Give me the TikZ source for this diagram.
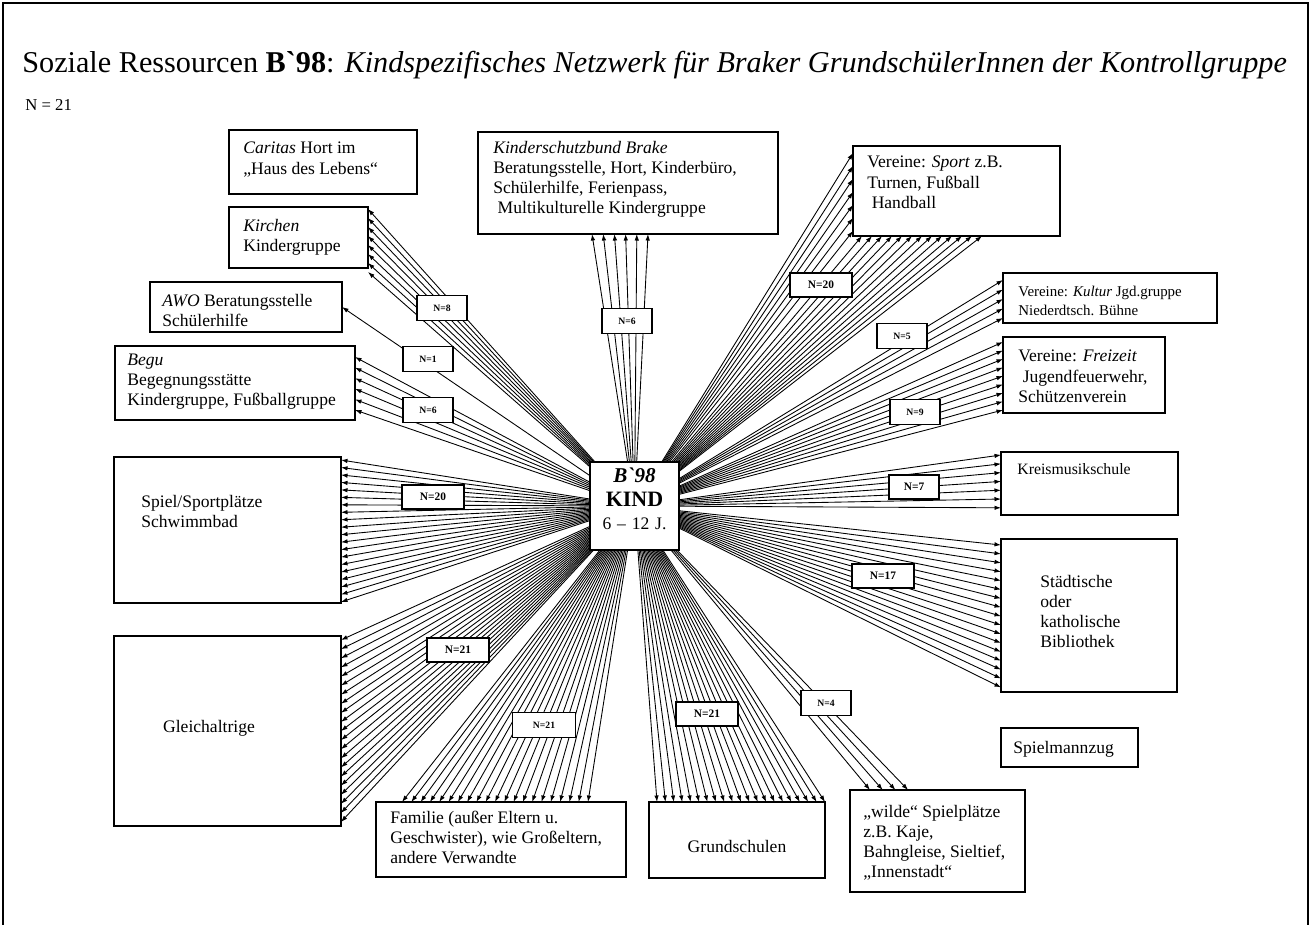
\documentclass[tikz,border=0pt]{standalone}
\usepackage{fontspec}
\setmainfont{Liberation Serif}[Ligatures=TeXOff]
\usetikzlibrary{arrows.meta, calc, positioning, fit, backgrounds}

\begin{document}
\begin{tikzpicture}[x=0.02cm, y=-0.02cm,
        box/.style={draw, line width=0.8pt, inner sep=0pt, outer sep=0pt},
        txt/.style={align=left, inner sep=0pt, font=\fontsize{10}{11.4}\selectfont},
        nlab/.style={draw, fill=white, line width=0.7pt, inner sep=0pt,
            font=\fontsize{5.5}{6}\selectfont\bfseries, minimum width=1cm, minimum height=0.49cm},
        nbig/.style={nlab, font=\fontsize{6.5}{7}\selectfont\bfseries, minimum width=1.24cm, minimum height=0.48cm},
        fan/.style={line width=0.5pt, -{Latex[length=0.13cm, width=0.09cm]}}]
    \useasboundingbox (0,0) rectangle (1311,924);
    \draw[line width=1.2pt] (3,930) -- (3,3) -- (1308,3) -- (1308,930);

    \node[anchor=base west, inner sep=0pt] (title) at (22,72)
        {\fontsize{17.2}{20}\selectfont Soziale Ressourcen \textbf{B`98}: \textit{Kindspezifisches Netzwerk für Braker GrundschülerInnen der Kontrollgruppe}};
    \node[anchor=base west, inner sep=0pt, font=\fontsize{9.5}{12}\selectfont] (ntotal) at (25,110) {N = 21};

    \node[box, fit={(229,130) (417,194)}] (caritas) {};
    \node[box, fit={(229,207) (368,268)}] (kirchen) {};
    \node[box, fit={(150,282) (342,332)}] (awo) {};
    \node[box, fit={(115,346) (355,420)}] (begu) {};
    \node[box, fit={(478,132) (778,234)}] (ksb) {};
    \node[box, fit={(853,146) (1060,236)}] (sport) {};
    \node[box, fit={(1003,273) (1217,323)}] (kultur) {};
    \node[box, fit={(1003,337) (1165,413)}] (freizeit) {};
    \node[box, fit={(1001,452) (1178,515)}] (kreis) {};
    \node[box, fit={(1001,539) (1177,692)}] (biblio) {};
    \node[box, fit={(1001,728) (1138,767)}] (spielmann) {};
    \node[box, fit={(114,457) (341,603)}] (spiel) {};
    \node[box, fit={(114,636) (341,826)}] (gleich) {};
    \node[box, fit={(376,802) (626,877)}] (familie) {};
    \node[box, fit={(649,802) (825,878)}] (grund) {};
    \node[box, fit={(850,790) (1025,892)}] (wilde) {};
    \node[box, line width=1.6pt, fill=white, fit={(590,462) (679,550)}, align=center] (kind)
        {{\fontsize{12}{12.5}\selectfont\bfseries\itshape B`98}\\[2pt]
         {\fontsize{12.5}{12.5}\selectfont\bfseries KIND}\\[1pt]
         {\fontsize{10}{12}\selectfont 6 – 12 J.}};

    \node[txt, below right=0.24cm and 0.28cm of caritas.north west] (caritastxt) {\textit{Caritas} Hort im\\„Haus des Lebens“};
    \node[txt, below right=0.24cm and 0.28cm of kirchen.north west] (kirchentxt) {\textit{Kirchen}\\Kindergruppe};
    \node[txt, below right=0.24cm and 0.24cm of awo.north west] (awotxt) {\textit{AWO} Beratungsstelle\\Schülerhilfe};
    \node[txt, below right=0.16cm and 0.24cm of begu.north west] (begutxt) {\textit{Begu}\\Begegnungsstätte\\Kindergruppe, Fußballgruppe};
    \node[txt, below right=0.18cm and 0.3cm of ksb.north west] (ksbtxt) {\textit{Kinderschutzbund Brake}\\Beratungsstelle, Hort, Kinderbüro,\\Schülerhilfe, Ferienpass,\\\ Multikulturelle Kindergruppe};
    \node[txt, below right=0.2cm and 0.28cm of sport.north west] (sporttxt) {Vereine: \textit{Sport} z.B.\\Turnen, Fußball\\\ Handball};
    \node[txt, font=\fontsize{8.5}{10.8}\selectfont, below right=0.26cm and 0.3cm of kultur.north west] (kulturtxt) {Vereine: \textit{Kultur} Jgd.gruppe\\Niederdtsch. Bühne};
    \node[txt, below right=0.26cm and 0.3cm of freizeit.north west] (freizeittxt) {Vereine: \textit{Freizeit}\\\ Jugendfeuerwehr,\\Schützenverein};
    \node[txt, font=\fontsize{9}{11}\selectfont, below right=0.22cm and 0.32cm of kreis.north west] (kreistxt) {Kreismusikschule};
    \node[txt, below right=0.72cm and 0.78cm of biblio.north west] (bibliotxt) {Städtische\\oder\\katholische\\Bibliothek};
    \node[txt, below right=0.26cm and 0.24cm of spielmann.north west] (spielmanntxt) {Spielmannzug};
    \node[txt, below right=0.76cm and 0.54cm of spiel.north west] (spieltxt) {Spiel/Sportplätze\\Schwimmbad};
    \node[txt] (gleichtxt) at (209,728) {Gleichaltrige};
    \node[txt, below right=0.18cm and 0.28cm of familie.north west] (familietxt) {Familie (außer Eltern u.\\Geschwister), wie Großeltern,\\andere Verwandte};
    \node[txt] (grundtxt) at (737,846) {Grundschulen};
    \node[txt, below right=0.3cm and 0.26cm of wilde.north west] (wildetxt) {„wilde“ Spielplätze\\z.B. Kaje,\\Bahngleise, Sieltief,\\„Innenstadt“};

    \begin{scope}[on background layer]
        \foreach \i in {0,...,7}
            \draw[fan] (kind.center) -- ($(kirchen.north east)+(0,2+\i*9)$);
        \draw[fan] (kind.center) -- (awo.east);
        \foreach \i in {0,...,5}
            \draw[fan] (kind.center) -- ($(begu.north east)+(0,11+\i*10.6)$);
        \foreach \i in {0,...,5}
            \draw[fan] (kind.center) -- ($(ksb.south west)+(114+\i*11.2,0)$);
        \foreach \i in {0,...,6}
            \draw[fan] (kind.center) -- ($(sport.north west)+(0,7+\i*13)$);
        \foreach \i in {0,...,12}
            \draw[fan] (kind.center) -- ($(sport.south west)+(9+\i*10,0)$);
        \foreach \i in {0,...,4}
            \draw[fan] (kind.center) -- ($(kultur.north west)+(0,7+\i*9.5)$);
        \foreach \i in {0,...,8}
            \draw[fan] (kind.center) -- ($(freizeit.north west)+(0,5+\i*8.5)$);
        \foreach \i in {0,...,6}
            \draw[fan] (kind.center) -- ($(kreis.north west)+(0,3+\i*8.8)$);
        \foreach \i in {0,...,16}
            \draw[fan] (kind.center) -- ($(biblio.north west)+(0,6+\i*8.9)$);
        \foreach \i in {0,...,3}
            \draw[fan] (kind.center) -- ($(wilde.north west)+(20+\i*12.7,0)$);
        \foreach \i in {0,...,20}
            \draw[fan] (kind.center) -- ($(grund.north west)+(8+\i*8.4,0)$);
        \foreach \i in {0,...,20}
            \draw[fan] (kind.center) -- ($(familie.north west)+(26+\i*9.3,0)$);
        \foreach \i in {0,...,20}
            \draw[fan] (kind.center) -- ($(gleich.north east)+(0,4+\i*9.1)$);
        \foreach \i in {0,...,19}
            \draw[fan] (kind.center) -- ($(spiel.north east)+(0,3+\i*7.47)$);
    \end{scope}

    \node[nlab] (n8) at (442,308) {N=8};
    \node[nlab] (n1) at (428,359) {N=1};
    \node[nlab] (n6a) at (428,410) {N=6};
    \node[nlab] (n6b) at (627,321) {N=6};
    \node[nbig] (n20a) at (821,285) {N=20};
    \node[nlab] (n5) at (902,336) {N=5};
    \node[nlab] (n9) at (915,412) {N=9};
    \node[nbig, minimum width=1cm] (n7) at (914,487) {N=7};
    \node[nbig] (n17) at (883,576) {N=17};
    \node[nlab] (n4) at (826,703) {N=4};
    \node[nbig] (n21c) at (707,714) {N=21};
    \node[nlab, minimum width=1.26cm] (n21b) at (544,725) {N=21};
    \node[nbig] (n21a) at (458,650) {N=21};
    \node[nbig] (n20b) at (433,497) {N=20};
\end{tikzpicture}
\end{document}
